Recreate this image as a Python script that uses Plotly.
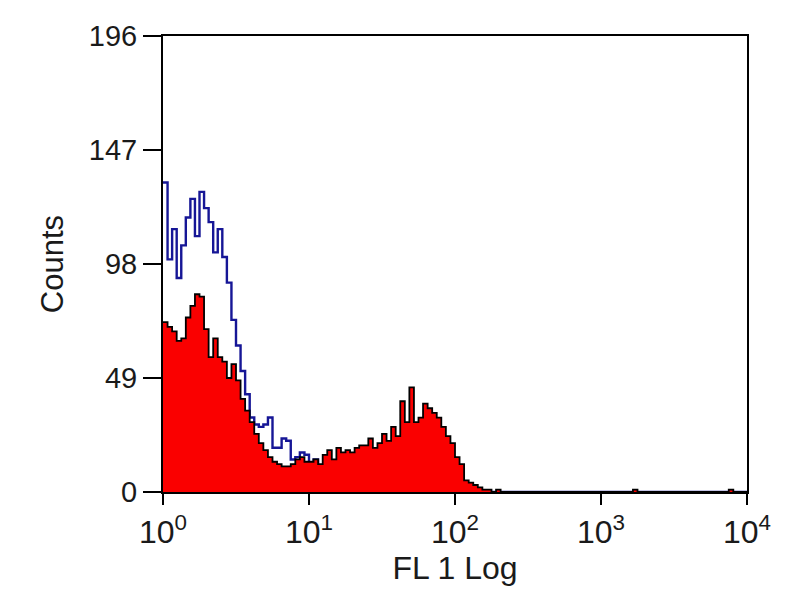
import numpy as np
import plotly.graph_objects as go

# Histogram channels: 32 channels per decade, 4 decades (FL 1 Log)
channels_per_decade = 32
n_channels = 128

red_counts = [
    73, 71, 69, 65, 66, 75, 80, 85, 84, 70,
    58, 66, 58, 56, 49, 55, 48, 40, 35, 30,
    25, 21, 18, 15, 13, 12, 11, 11, 12, 14,
    15, 13, 13, 14, 12, 16, 18, 14, 19, 17,
    18, 17, 19, 20, 20, 23, 19, 21, 25, 22,
    28, 24, 39, 30, 45, 30, 32, 38, 36, 34,
    32, 28, 24, 21, 15, 12, 5, 4, 3, 2,
    1, 1, 0, 1, 0, 0, 0, 0, 0, 0,
    0, 0, 0, 0, 0, 0, 0, 0, 0, 0,
    0, 0, 0, 0, 0, 0, 0, 0, 0, 0,
    0, 0, 0, 1, 0, 0, 0, 0, 0, 0,
    0, 0, 0, 0, 0, 0, 0, 0, 0, 0,
    0, 0, 0, 0, 1, 0, 0, 0,
]

blue_counts = [
    133, 100, 113, 92, 106, 118, 126, 110, 129, 122,
    116, 103, 113, 101, 90, 74, 63, 52, 42, 32,
    29, 28, 29, 32, 19, 19, 23, 22, 14, 15,
    17, 16, 12, 14, 10, 8, 6, 5, 5, 4,
    4, 3, 3, 3, 2, 2, 2, 2, 1, 1,
    1, 1, 1, 1, 1, 1, 1, 1, 0, 0,
    0, 0, 0, 0, 0, 0, 0, 0, 0, 0,
    0, 0, 0, 0, 0, 0, 0, 0, 0, 0,
    0, 0, 0, 0, 0, 0, 0, 0, 0, 0,
    0, 0, 0, 0, 0, 0, 0, 0, 0, 0,
    0, 0, 0, 0, 0, 0, 0, 0, 0, 0,
    0, 0, 0, 0, 0, 0, 0, 0, 0, 0,
    0, 0, 0, 0, 0, 0, 0, 0,
]

y_ticks = [0, 49, 98, 147, 196]
x_tick_vals = [1, 10, 100, 1000, 10000]
x_tick_text = ["10<sup>0</sup>", "10<sup>1</sup>", "10<sup>2</sup>", "10<sup>3</sup>", "10<sup>4</sup>"]

edges = 10 ** (np.arange(n_channels + 1) / channels_per_decade)


def step_xy(counts):
    xs = list(edges[:len(counts) + 1])
    ys = list(counts) + [counts[-1]]
    return xs, ys


bx, by = step_xy(blue_counts)
rx, ry = step_xy(red_counts)

fig = go.Figure()
fig.add_trace(go.Scatter(
    x=bx, y=by, mode="lines", line=dict(shape="hv", color="rgb(22,22,150)", width=2.4),
    showlegend=False, hoverinfo="skip",
))
fig.add_trace(go.Scatter(
    x=rx, y=ry, mode="lines", line=dict(shape="hv", color="black", width=1.8),
    fill="tozeroy", fillcolor="rgb(250,0,0)", showlegend=False, hoverinfo="skip",
))

font_family = "Liberation Sans, Arial, sans-serif"
fig.update_layout(
    width=800, height=600,
    margin=dict(l=155, r=61, t=24, b=116),
    paper_bgcolor="white", plot_bgcolor="white",
    font=dict(family=font_family, color="#1a1a1a"),
    xaxis=dict(
        type="log", range=[0, 4],
        tickvals=x_tick_vals, ticktext=x_tick_text,
        tickfont=dict(size=32, color="#1a1a1a"),
        ticks="outside", ticklen=11, tickwidth=2, tickcolor="black",
        showline=True, linecolor="black", linewidth=2, mirror=True,
        showgrid=False, zeroline=False,
        title=dict(text="FL 1 Log", font=dict(size=32, color="#1a1a1a"), standoff=4),
    ),
    yaxis=dict(
        range=[0, 196],
        tickvals=y_ticks, ticktext=[str(v) for v in y_ticks],
        tickfont=dict(size=29, color="#1a1a1a"),
        ticks="outside", ticklen=18, tickwidth=2, tickcolor="black",
        showline=True, linecolor="black", linewidth=2, mirror=True,
        showgrid=False, zeroline=False,
        title=dict(text="Counts", font=dict(size=31, color="#1a1a1a"), standoff=16),
    ),
)

fig.write_html("out.html")
